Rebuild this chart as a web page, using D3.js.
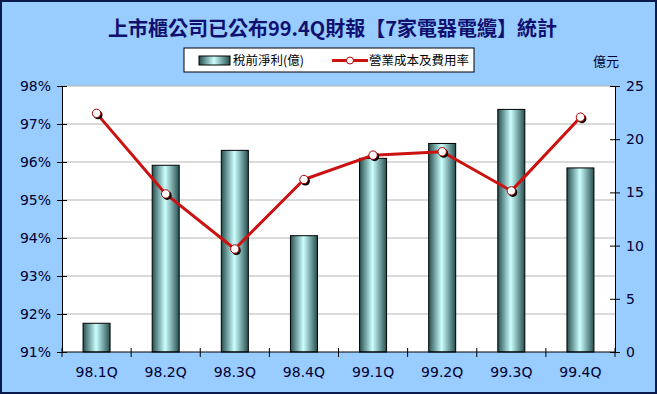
<!DOCTYPE html>
<html>
<head>
<meta charset="utf-8">
<script src="https://cdn.jsdelivr.net/npm/d3@7"></script>
<style>
  body { margin: 0; background: #fff; }
  text { font-family: "DejaVu Sans", Verdana, sans-serif; }
  .cjk { font-family: "Noto Sans CJK TC", "Noto Sans CJK SC", sans-serif; }
</style>
</head>
<body>
<div id="chart"></div>
<script>
const quarters = ['98.1Q', '98.2Q', '98.3Q', '98.4Q', '99.1Q', '99.2Q', '99.3Q', '99.4Q'];
const profit = [2.7, 17.55, 18.95, 10.93, 18.2, 19.6, 22.8, 17.3];          // 億元
const costRate = [97.28, 95.16, 93.71, 95.54, 96.18, 96.27, 95.24, 97.18];  // %
const leftTicks = [91, 92, 93, 94, 95, 96, 97, 98];
const rightTicks = [0, 5, 10, 15, 20, 25];

const W = 657, H = 394;
const plot = {left: 62, right: 615, top: 86, bottom: 352};
const navy = '#000033';

const svg = d3.select('#chart').append('svg')
  .attr('width', W)
  .attr('height', H);

const defs = svg.append('defs');
const grad = defs.append('linearGradient').attr('id', 'barGrad')
  .attr('x1', '0%').attr('x2', '100%').attr('y1', '0%').attr('y2', '0%');
grad.append('stop').attr('offset', '0%').attr('stop-color', '#264f4f');
grad.append('stop').attr('offset', '48%').attr('stop-color', '#ccffff');
grad.append('stop').attr('offset', '100%').attr('stop-color', '#264f4f');

// background + frame
svg.append('rect')
  .attr('x', 1).attr('y', 1)
  .attr('width', W - 2).attr('height', H - 2)
  .attr('fill', '#99ccff')
  .attr('stroke', '#0a1a4a')
  .attr('stroke-width', 2);

svg.append('rect')
  .attr('x', plot.left).attr('y', plot.top)
  .attr('width', plot.right - plot.left).attr('height', plot.bottom - plot.top)
  .attr('fill', '#fff');

const x = d3.scaleBand().domain(quarters).range([plot.left, plot.right]);
const yL = d3.scaleLinear().domain([91, 98]).range([plot.bottom, plot.top]);
const yR = d3.scaleLinear().domain([0, 25]).range([plot.bottom, plot.top]);

// gridlines
svg.append('g')
  .selectAll('line')
  .data(leftTicks.slice(1))
  .join('line')
  .attr('x1', plot.left).attr('x2', plot.right)
  .attr('y1', d => yL(d)).attr('y2', d => yL(d))
  .attr('stroke', '#b4b4b4')
  .attr('stroke-width', 1);

// bars
const barW = 27;
svg.append('g')
  .selectAll('rect')
  .data(profit)
  .join('rect')
  .attr('x', (d, i) => x(quarters[i]) + x.bandwidth() / 2 - barW / 2)
  .attr('y', d => yR(d))
  .attr('width', barW)
  .attr('height', d => plot.bottom - yR(d))
  .attr('fill', 'url(#barGrad)')
  .attr('stroke', '#000')
  .attr('stroke-width', 1);

// axes
const leftAxis = d3.axisLeft(yL).tickValues(leftTicks)
  .tickFormat(d => d + '%').tickSizeInner(5).tickSizeOuter(0).tickPadding(6);
const gL = svg.append('g')
  .attr('transform', `translate(${plot.left},0)`)
  .call(leftAxis);
gL.selectAll('.tick line').attr('x2', 5).attr('x1', -5);

const rightAxis = d3.axisRight(yR).tickValues(rightTicks)
  .tickSizeInner(5).tickSizeOuter(0).tickPadding(6);
const gR = svg.append('g')
  .attr('transform', `translate(${plot.right},0)`)
  .call(rightAxis);
gR.selectAll('.tick line').attr('x1', -5).attr('x2', 5);

const bottomAxis = d3.axisBottom(x).tickSize(0).tickPadding(15);
const gB = svg.append('g')
  .attr('transform', `translate(0,${plot.bottom})`)
  .call(bottomAxis);
gB.selectAll('.domain').attr('d', `M${plot.left},0H${plot.right}`);
gB.selectAll('.sep')
  .data(d3.range(quarters.length + 1))
  .join('line')
  .attr('class', 'sep')
  .attr('x1', i => plot.left + i * x.bandwidth())
  .attr('x2', i => plot.left + i * x.bandwidth())
  .attr('y1', -4).attr('y2', 5)
  .attr('stroke', '#000');

[gL, gR, gB].forEach(g => {
  g.selectAll('.domain').attr('stroke', '#000');
  g.selectAll('.tick line').attr('stroke', '#000');
  g.selectAll('text').attr('fill', navy).attr('font-size', 14)
    .attr('font-family', '"DejaVu Sans", Verdana, sans-serif');
});

// line
const line = d3.line()
  .x((d, i) => x(quarters[i]) + x.bandwidth() / 2)
  .y(d => yL(d));

svg.append('path')
  .datum(costRate)
  .attr('fill', 'none')
  .attr('stroke', '#cc1111')
  .attr('stroke-width', 3)
  .attr('stroke-linejoin', 'round')
  .attr('d', line);

const pts = svg.append('g')
  .selectAll('g')
  .data(costRate)
  .join('g')
  .attr('transform', (d, i) => `translate(${x(quarters[i]) + x.bandwidth() / 2},${yL(d)})`);
pts.append('circle')
  .attr('cx', 1.5).attr('cy', 1.5).attr('r', 4.5)
  .attr('fill', '#000');
pts.append('circle')
  .attr('r', 4.2)
  .attr('fill', '#fff')
  .attr('stroke', '#aa0000')
  .attr('stroke-width', 1);

// title
svg.append('text')
  .attr('class', 'cjk')
  .attr('x', W / 2 + 4).attr('y', 36)
  .attr('text-anchor', 'middle')
  .attr('font-size', 20)
  .attr('font-weight', 'bold')
  .attr('fill', '#101070')
  .text('上市櫃公司已公布99.4Q財報【7家電器電纜】統計');

// unit label
svg.append('text')
  .attr('class', 'cjk')
  .attr('x', 619).attr('y', 66)
  .attr('text-anchor', 'end')
  .attr('font-size', 13)
  .attr('fill', navy)
  .text('億元');

// legend
const lg = svg.append('g');
lg.append('rect')
  .attr('x', 184).attr('y', 48)
  .attr('width', 290).attr('height', 24)
  .attr('fill', '#fff')
  .attr('stroke', '#000');
lg.append('rect')
  .attr('x', 199).attr('y', 56)
  .attr('width', 31).attr('height', 9)
  .attr('fill', 'url(#barGrad)')
  .attr('stroke', '#000');
lg.append('text')
  .attr('class', 'cjk')
  .attr('x', 233).attr('y', 65)
  .attr('font-size', 12.5)
  .attr('fill', '#000')
  .text('稅前淨利(億)');
lg.append('line')
  .attr('x1', 332).attr('x2', 368)
  .attr('y1', 60.5).attr('y2', 60.5)
  .attr('stroke', '#cc1111')
  .attr('stroke-width', 3);
lg.append('circle')
  .attr('cx', 350).attr('cy', 60.5).attr('r', 3.5)
  .attr('fill', '#fff')
  .attr('stroke', '#aa0000');
lg.append('text')
  .attr('class', 'cjk')
  .attr('x', 369).attr('y', 65)
  .attr('font-size', 12.5)
  .attr('fill', '#000')
  .text('營業成本及費用率');
</script>
</body>
</html>
